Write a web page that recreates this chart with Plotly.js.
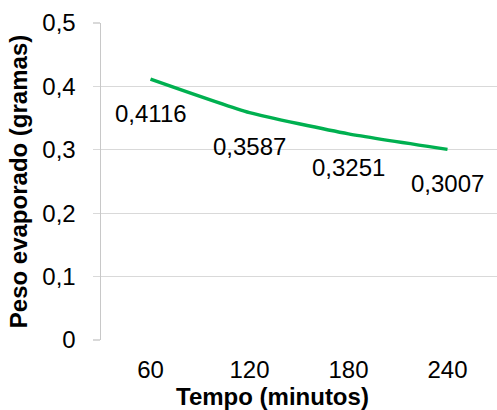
<!DOCTYPE html>
<html>
<head>
<meta charset="utf-8">
<script src="https://cdn.plot.ly/plotly-3.0.1.min.js"></script>
<style>html,body{margin:0;padding:0;background:#fff;}#chart{width:497px;height:410px;}</style>
</head>
<body>
<div id="chart"></div>
<script>
const categories = ["60", "120", "180", "240"];
const pesoEvaporado = [0.4116, 0.3587, 0.3251, 0.3007];
const xTitle = "Tempo (minutos)";
const yTitle = "Peso evaporado (gramas)";

const fontFamily = "Liberation Sans";
const labelText = pesoEvaporado.map(v => String(v).replace('.', ','));

const trace = {
  x: categories,
  y: pesoEvaporado,
  type: 'scatter',
  mode: 'lines',
  line: {color: '#00B050', width: 3.5, shape: 'spline', smoothing: 0.5},
  hoverinfo: 'skip'
};

const annotations = categories.map((c, i) => ({
  x: i, y: pesoEvaporado[i], xref: 'x', yref: 'y',
  text: labelText[i], showarrow: false,
  xanchor: 'center', yanchor: 'middle',
  yshift: -34,
  font: {family: fontFamily, size: 24, color: '#000000'}
}));

annotations.push({
  xref: 'paper', yref: 'paper',
  x: (272 - 101) / 396, y: -(396 - 340) / 317,
  xanchor: 'center', yanchor: 'middle',
  text: xTitle, showarrow: false,
  font: {family: fontFamily, size: 24, color: '#000000', weight: 'bold'}
});

const layout = {
  width: 497, height: 410,
  margin: {l: 101, r: 0, t: 23, b: 70},
  paper_bgcolor: '#ffffff', plot_bgcolor: '#ffffff',
  separators: ',.',
  showlegend: false,
  font: {family: fontFamily, size: 24, color: '#000000'},
  xaxis: {
    type: 'category',
    range: [-0.5, 3.5],
    showgrid: false,
    showline: false,
    ticks: 'outside',
    ticklen: 8,
    tickcolor: 'rgba(0,0,0,0)',
    tickfont: {family: fontFamily, size: 24, color: '#000000'},
    zeroline: false,
    fixedrange: true
  },
  yaxis: {
    range: [0, 0.5],
    dtick: 0.1,
    tick0: 0,
    tickformat: '.1~f',
    showgrid: true,
    gridcolor: '#d9d9d9',
    gridwidth: 1.3,
    zeroline: false,
    showline: true,
    linecolor: '#c8c8c8',
    linewidth: 1.5,
    ticks: 'outside',
    ticklen: 7,
    tickcolor: '#d9d9d9',
    tickwidth: 1.3,
    ticklabelstandoff: 12,
    tickfont: {family: fontFamily, size: 24, color: '#000000'},
    title: {text: yTitle, font: {family: fontFamily, size: 24, color: '#000000', weight: 'bold'}, standoff: 8},
    fixedrange: true
  },
  annotations: annotations
};

Plotly.newPlot('chart', [trace], layout, {displayModeBar: false, staticPlot: true});
</script>
</body>
</html>
